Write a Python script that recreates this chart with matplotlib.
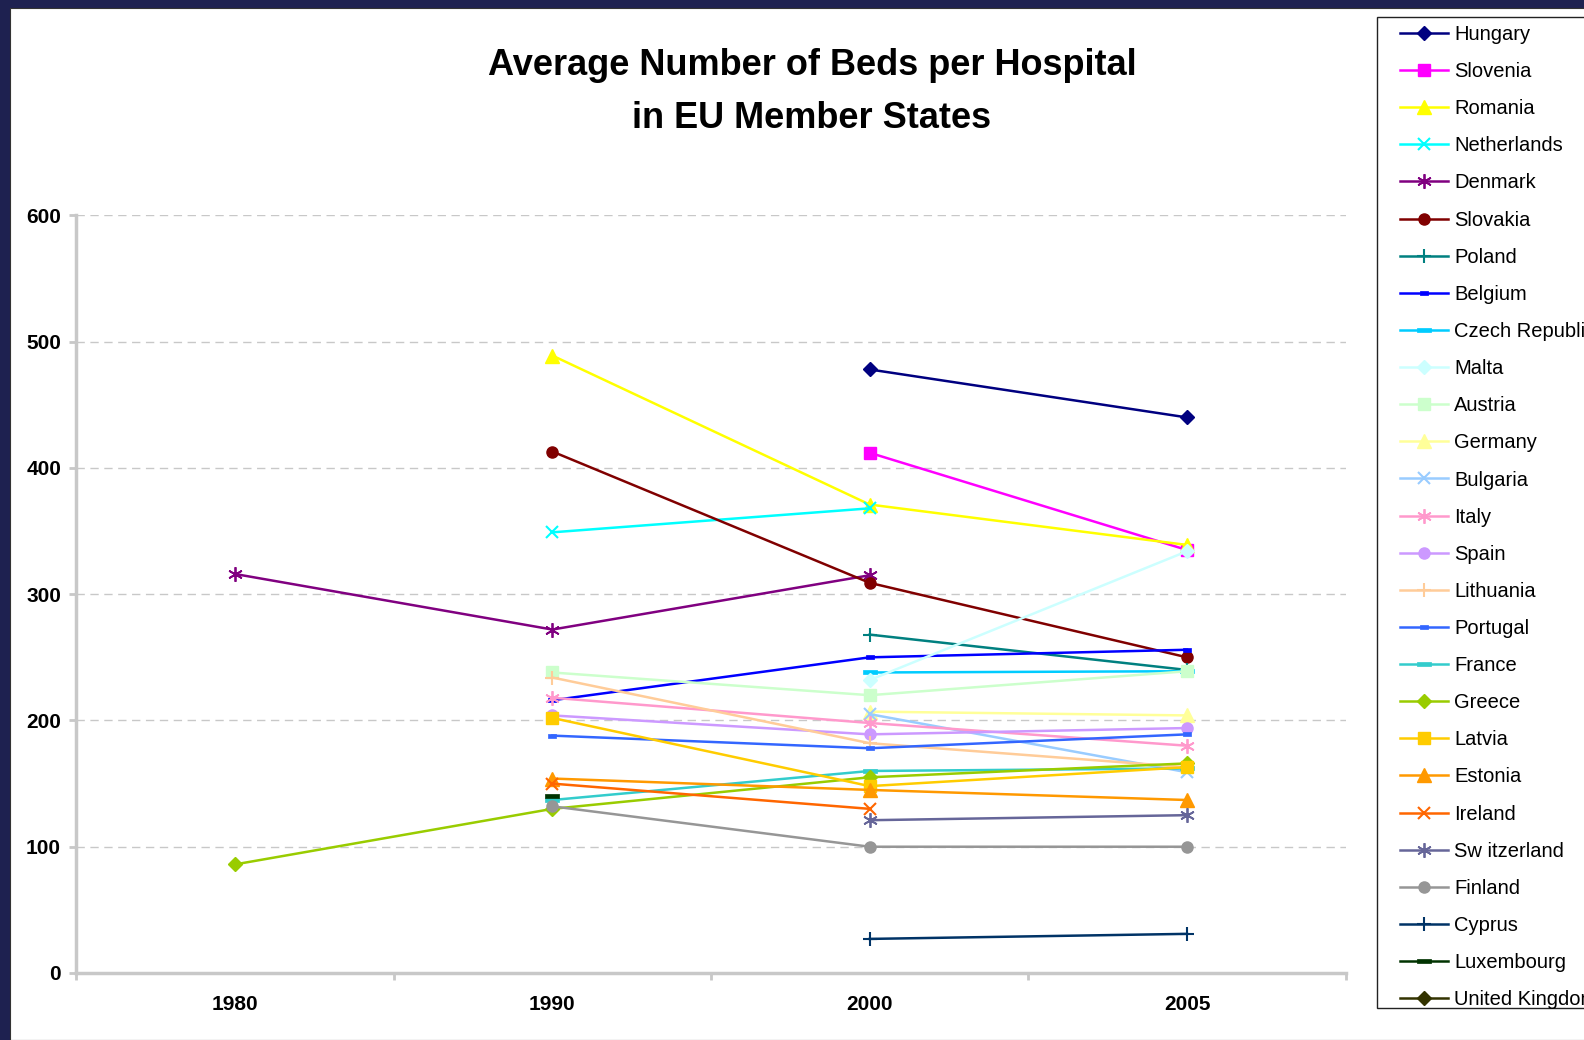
import numpy as np
import matplotlib
matplotlib.use('Agg')
import matplotlib.pyplot as plt
from matplotlib.path import Path
from matplotlib.patches import Rectangle

nan = np.nan
years = ['1980', '1990', '2000', '2005']

countries = ['Hungary', 'Slovenia', 'Romania', 'Netherlands', 'Denmark', 'Slovakia',
             'Poland', 'Belgium', 'Czech Republic', 'Malta', 'Austria', 'Germany',
             'Bulgaria', 'Italy', 'Spain', 'Lithuania', 'Portugal', 'France', 'Greece',
             'Latvia', 'Estonia', 'Ireland', 'Sw itzerland', 'Finland', 'Cyprus',
             'Luxembourg', 'United Kingdom']

hungary = [nan, nan, 478, 440]
slovenia = [nan, nan, 412, 335]
romania = [nan, 489, 371, 339]
netherlands = [nan, 349, 368, nan]
denmark = [316, 272, 315, nan]
slovakia = [nan, 413, 309, 250]
poland = [nan, nan, 268, 240]
belgium = [nan, 216, 250, 256]
czech = [nan, nan, 238, 239]
malta = [nan, nan, 232, 334]
austria = [nan, 238, 220, 239]
germany = [nan, nan, 207, 204]
bulgaria = [nan, nan, 205, 159]
italy = [nan, 218, 198, 180]
spain = [nan, 204, 189, 194]
lithuania = [nan, 234, 182, 163]
portugal = [nan, 188, 178, 189]
france = [nan, 137, 160, 162]
greece = [86, 130, 155, 166]
latvia = [nan, 202, 148, 163]
estonia = [nan, 154, 145, 137]
ireland = [nan, 150, 130, nan]
switzerland = [nan, nan, 121, 125]
finland = [nan, 132, 100, 100]
cyprus = [nan, nan, 27, 31]
luxembourg = [nan, 140, nan, nan]
united_kingdom = [nan, nan, nan, nan]

series = [hungary, slovenia, romania, netherlands, denmark, slovakia, poland, belgium,
          czech, malta, austria, germany, bulgaria, italy, spain, lithuania, portugal,
          france, greece, latvia, estonia, ireland, switzerland, finland, cyprus,
          luxembourg, united_kingdom]

colors = ['#000080', '#FF00FF', '#FFFF00', '#00FFFF', '#800080', '#800000', '#008080',
          '#0000FF', '#00CCFF', '#CCFFFF', '#CCFFCC', '#FFFF99', '#99CCFF', '#FF99CC',
          '#CC99FF', '#FFCC99', '#3366FF', '#33CCCC', '#99CC00', '#FFCC00', '#FF9900',
          '#FF6600', '#666699', '#969696', '#003366', '#003300', '#333300']

# marker styles
short_dash = Path([(-0.5, -0.22), (0.5, -0.22), (0.5, 0.22), (-0.5, 0.22), (-0.5, -0.22)],
                  [Path.MOVETO, Path.LINETO, Path.LINETO, Path.LINETO, Path.CLOSEPOLY])
long_dash = Path([(-0.5, -0.16), (0.5, -0.16), (0.5, 0.16), (-0.5, 0.16), (-0.5, -0.16)],
                 [Path.MOVETO, Path.LINETO, Path.LINETO, Path.LINETO, Path.CLOSEPOLY])
asterisk = (6, 2, 0)
mk = {
    'D': ('D', 7.0, 1.0),
    's': ('s', 8.0, 1.0),
    '^': ('^', 9.5, 1.0),
    'x': ('x', 9.0, 1.5),
    '*': (asterisk, 10.5, 1.3),
    'o': ('o', 8.0, 1.0),
    '+': ('+', 10.0, 1.5),
    '-': (short_dash, 6.0, 0.5),
    '=': (long_dash, 9.5, 0.5),
}
marker_cycle = ['D', 's', '^', 'x', '*', 'o', '+', '-', '=',
                'D', 's', '^', 'x', '*', 'o', '+', '-', '=',
                'D', 's', '^', 'x', '*', 'o', '+', '=', 'D']

plt.rcParams['font.family'] = ['Liberation Sans', 'DejaVu Sans']

W, H = 1584, 1040
fig = plt.figure(figsize=(W / 100, H / 100), dpi=100)
fig.patch.set_facecolor('#1e2150')
# white slide area
fig.patches.append(Rectangle((10 / W, 0), 1, 1 - 8 / H, transform=fig.transFigure,
                             facecolor='white', edgecolor='#333333', lw=0.8, zorder=-2))
# legend frame
fig.patches.append(Rectangle((1377 / W, 1 - 1008 / H), 0.5, (1008 - 17) / H,
                             transform=fig.transFigure, facecolor='white',
                             edgecolor='#222222', lw=1.0, zorder=-1))

ax = fig.add_axes([76.3 / W, 1 - 973 / H, (1345.7 - 76.3) / W, (973 - 215.4) / H])
ax.set_zorder(2)
ax.patch.set_alpha(0)
x = np.arange(len(years))

handles = []
for i, (name, vals, col, m) in enumerate(zip(countries, series, colors, marker_cycle)):
    marker, ms, mew = mk[m]
    ln, = ax.plot(x, np.array(vals, dtype=float), color=col, lw=1.8, marker=marker,
                  markersize=ms, markeredgewidth=mew, markerfacecolor=col,
                  markeredgecolor=col, label=name, zorder=3 + i * 0.01, clip_on=False)
    handles.append(ln)

ax.set_xlim(-0.5, 3.5)
ax.set_ylim(0, 600)
ax.set_yticks(np.arange(0, 601, 100))
ax.set_xticks(x)
ax.set_xticklabels(years)
ax.set_xticks([-0.5, 0.5, 1.5, 2.5, 3.5], minor=True)
ax.tick_params(axis='x', which='major', length=0, pad=16)
ax.tick_params(axis='x', which='minor', length=5, width=2, color='#c8c8c8', direction='out')
ax.tick_params(axis='y', which='major', length=5, width=2, color='#c8c8c8', direction='out', pad=6)
for lab in ax.get_xticklabels() + ax.get_yticklabels():
    lab.set_fontsize(15)
    lab.set_fontweight('bold')
    lab.set_color('black')

ax.yaxis.grid(True, linestyle=(0, (6, 4)), color='#c8c8c8', lw=1)
ax.set_axisbelow(True)
for s in ['top', 'right']:
    ax.spines[s].set_visible(False)
for s in ['left', 'bottom']:
    ax.spines[s].set_color('#c8c8c8')
    ax.spines[s].set_linewidth(2.5)

fig.text(812 / W, 1 - 92 / H, 'Average Number of Beds per Hospital\nin EU Member States',
         ha='center', va='center', fontsize=26, fontweight='bold', linespacing=1.65)

leg = fig.legend(handles=handles, loc='upper left',
                 bbox_to_anchor=(1400 / W, 1 - 25 / H), bbox_transform=fig.transFigure,
                 frameon=False, borderpad=0, borderaxespad=0, fontsize=14.5,
                 handlelength=2.4, handletextpad=0.3, labelspacing=0.9)
leg.set_zorder(5)

fig.savefig('out.png', dpi=100, facecolor=fig.get_facecolor())
